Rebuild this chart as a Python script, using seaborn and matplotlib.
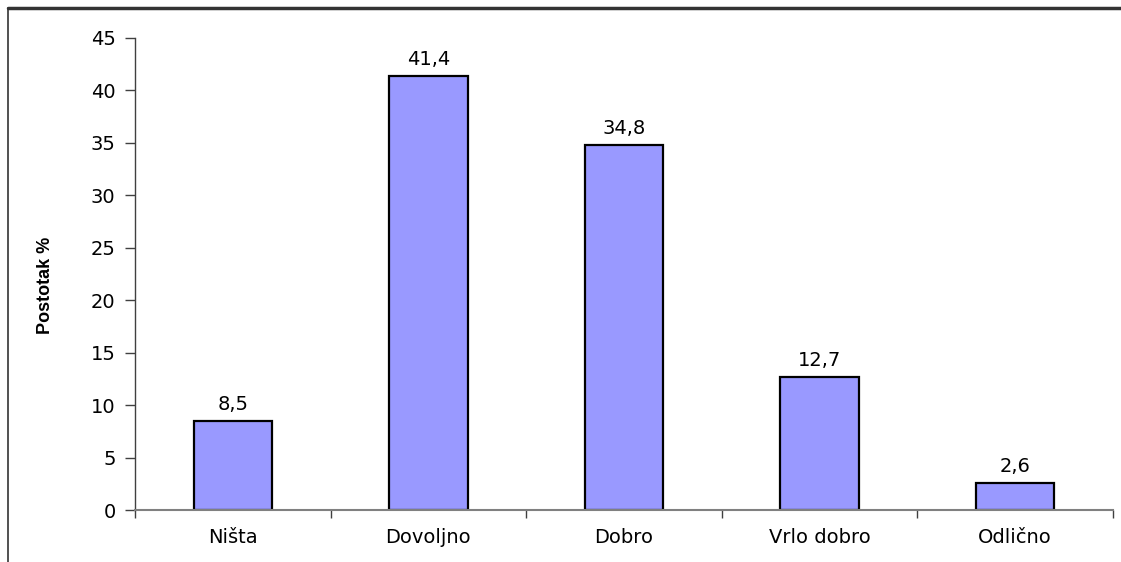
import numpy as np
import seaborn as sns
import matplotlib.pyplot as plt
from matplotlib.lines import Line2D
from matplotlib.ticker import FixedLocator

# Podaci
kategorije = ["Ništa", "Dovoljno", "Dobro", "Vrlo dobro", "Odlično"]
postotak = [8.5, 41.4, 34.8, 12.7, 2.6]
y_ticks = [0, 5, 10, 15, 20, 25, 30, 35, 40, 45]

sns.set_style("white")
plt.rcParams["font.family"] = ["DejaVu Sans"]
plt.rcParams["text.color"] = "black"
plt.rcParams["axes.labelcolor"] = "black"
plt.rcParams["xtick.labelcolor"] = "black"
plt.rcParams["ytick.labelcolor"] = "black"

fig = plt.figure(figsize=(11.21, 5.62), dpi=100)
ax = fig.add_axes([0.1204, 0.0925, 0.8725, 0.8399])

sns.barplot(x=kategorije, y=postotak, color="#9999FF", edgecolor="black",
            linewidth=1.6, width=0.4, saturation=1, ax=ax)

# oznake vrijednosti iznad stupaca
for c in ax.containers:
    ax.bar_label(c, labels=[f"{v:.1f}".replace(".", ",") for v in postotak],
                 padding=5, fontsize=14)

ax.set_ylim(0, 45)
ax.set_xlim(-0.5, 4.5)
ax.set_yticks(y_ticks)
ax.tick_params(axis="y", labelsize=14, length=7, width=1, color="#404040",
               direction="out", left=True, pad=7)
ax.tick_params(axis="x", which="major", length=0, labelsize=14, pad=13)
ax.xaxis.set_minor_locator(FixedLocator(np.arange(-0.5, 5, 1)))
ax.tick_params(axis="x", which="minor", length=6, width=1, color="#404040",
               direction="out", bottom=True)

for s in ["top", "right"]:
    ax.spines[s].set_visible(False)
ax.spines["left"].set_color("#404040")
ax.spines["bottom"].set_color("#808080")
ax.spines["left"].set_linewidth(1)
ax.spines["bottom"].set_linewidth(1.5)

ax.set_xlabel("")
ax.set_ylabel("Postotak %", fontsize=13, fontweight="bold",
              family=["Liberation Sans Narrow", "Liberation Sans"])
ax.yaxis.set_label_coords(-0.083, 0.475)

# okvir slike
fig.add_artist(Line2D([8 / 1121, 1], [1 - 8 / 562, 1 - 8 / 562], color="#333333", lw=2.5))
fig.add_artist(Line2D([8 / 1121, 8 / 1121], [0, 1 - 8 / 562], color="#333333", lw=1.2))

fig.savefig("out.png", dpi=100)
